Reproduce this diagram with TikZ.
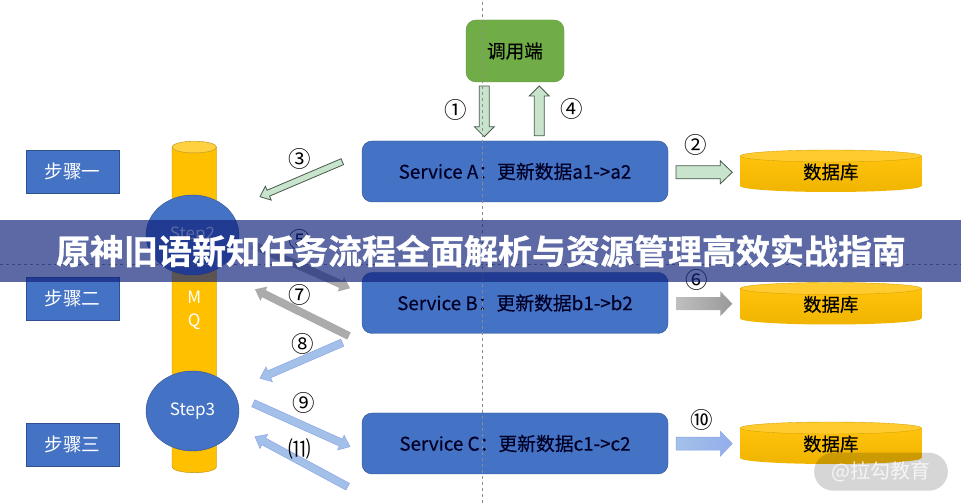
\documentclass[tikz,border=0pt]{standalone}
\usepackage{fontspec}
\setmainfont{Noto Sans CJK SC}
\newfontfamily\heavyfont{Noto Sans CJK SC}[FakeBold=0.35]
\newfontfamily\titlefont{Noto Sans CJK SC Bold}[FakeBold=0.9]
\usetikzlibrary{shapes.geometric,calc}
\definecolor{svcblue}{HTML}{4472C4}
\definecolor{svcline}{HTML}{2F528F}
\definecolor{callgreen}{HTML}{70AD47}
\definecolor{callline}{HTML}{5E9440}
\definecolor{tankyellow}{HTML}{FFC000}
\definecolor{tankline}{HTML}{B98C10}
\definecolor{paleblue}{HTML}{A3C1E8}
\definecolor{palegreen}{HTML}{C9E4CC}
\definecolor{arrowline}{HTML}{46584C}
\definecolor{bandblue}{HTML}{0F227A}

\begin{document}
\begin{tikzpicture}[x=1pt,y=1pt,
    stepbox/.style={
        draw=svcline,
        fill=svcblue,
        text=white,
        font=\fontsize{18.6}{20}\selectfont,
        minimum width=93pt,
        minimum height=42.5pt},
    svcbox/.style={
        draw=svcline,
        fill=svcblue,
        rounded corners=10pt,
        text=black!85!blue,
        font=\heavyfont\fontsize{18.8}{20}\selectfont,
        minimum width=306pt,
        minimum height=61pt},
    stepcircle/.style={
        ellipse,
        draw=svcline,
        fill=svcblue,
        text=white,
        font=\fontsize{17}{20}\selectfont,
        minimum width=93pt,
        minimum height=80pt,
        inner sep=0pt},
    numlabel/.style={font=\fontsize{22.5}{24}\selectfont},
    % a block arrow: half width of shaft, half width of head, length of head
    blockarrow/.style n args={3}{
        to path={
            ($(\tikztostart)!#1!90:(\tikztotarget)$)
            -- ($(\tikztotarget)!#3!(\tikztostart)!#1!-90:(\tikztostart)$)
            -- ($(\tikztotarget)!#3!(\tikztostart)!#2!-90:(\tikztostart)$)
            -- (\tikztotarget)
            -- ($(\tikztotarget)!#3!(\tikztostart)!#2!90:(\tikztostart)$)
            -- ($(\tikztotarget)!#3!(\tikztostart)!#1!90:(\tikztostart)$)
            -- ($(\tikztostart)!#1!-90:(\tikztotarget)$)
            -- cycle}},
    greenarrow/.style={draw=arrowline,fill=palegreen,line width=.8pt},
    grayarrow/.style={fill=black!33},
    bluearrow/.style={draw=paleblue!85!blue,fill=paleblue,line width=.5pt}
    ]
    \useasboundingbox (0,0) rectangle (961,503);

    % storage tank
    \node[cylinder,shape border rotate=90,aspect=.85,draw=tankline,
        cylinder uses custom fill,cylinder body fill=tankyellow,
        cylinder end fill=tankyellow!75!white,
        minimum width=44.5pt,minimum height=331.5pt,inner sep=0pt,
        text=white,align=center,
        font=\fontsize{17}{23}\selectfont] (tank) at (194.25,193) {M\\Q};

    \node[stepbox] (step1) at (72.5,331.5) {步骤一};
    \node[stepbox] (step2) at (72.5,204.2) {步骤二};
    \node[stepbox] (step3) at (72.5,58.5) {步骤三};

    \node[stepcircle] (circle2) at (192.5,268) {Step2};
    \node[stepcircle] (circle3) at (192.5,92) {Step3};

    \node[svcbox] (svca) at (515,331.5) {Service A：更新数据a1->a2};
    \node[svcbox] (svcb) at (515,200) {Service B：更新数据b1->b2};
    \node[svcbox] (svcc) at (515,59.5) {Service C：更新数据c1->c2};

    \node[draw=callline,fill=callgreen,rounded corners=10pt,
        minimum width=98pt,minimum height=62pt,
        font=\heavyfont\fontsize{18.6}{20}\selectfont] (caller) at (515,452) {调用端};

    % databases
    \foreach \name/\ypos in {dba/332,dbb/199.5,dbc/60}{
        \shade[top color=tankyellow!95!white,bottom color=tankyellow!94!black]
            (740,\ypos+15) -- (740,\ypos-15)
            arc[start angle=180,end angle=360,x radius=90.75pt,y radius=6pt]
            -- (921.5,\ypos+15) -- cycle;
        \fill[tankyellow!82!white,draw=tankyellow!85!black,line width=.4pt] (830.75,\ypos+15)
            ellipse[x radius=90.75pt,y radius=6pt];
        \node[font=\heavyfont\fontsize{18.4}{20}\selectfont] (\name) at (830.75,\ypos-1) {数据库};
    }

    % arrow ends
    \coordinate (a1s) at (484.3,417);
    \coordinate (a1t) at (484.3,366.3);
    \coordinate (a4s) at (539.3,367.3);
    \coordinate (a4t) at (539.3,417);
    \coordinate (a2s) at (676,330.7);
    \coordinate (a2t) at (732.3,330.7);
    \coordinate (a3s) at (342.3,341.3);
    \coordinate (a3t) at (260,306.3);
    \coordinate (a5s) at (253,258);
    \coordinate (a5t) at (350,214.7);
    \coordinate (a6s) at (676,199.3);
    \coordinate (a6t) at (732.3,199.3);
    \coordinate (a7s) at (349,167);
    \coordinate (a7t) at (255,213.7);
    \coordinate (a8s) at (342.3,160.3);
    \coordinate (a8t) at (260,124.7);
    \coordinate (a9s) at (253.3,99.7);
    \coordinate (a9t) at (350,56.3);
    \coordinate (a10s) at (676,59.3);
    \coordinate (a10t) at (732.3,59.3);
    \coordinate (a11s) at (347.7,16.3);
    \coordinate (a11t) at (255,66.3);

    \draw[greenarrow] (a1s) to[blockarrow={5pt}{10pt}{10pt}] (a1t);
    \draw[greenarrow] (a4s) to[blockarrow={5pt}{10pt}{10pt}] (a4t);
    \draw[greenarrow] (a2s) to[blockarrow={6.5pt}{11.5pt}{12pt}] (a2t);
    \draw[greenarrow] (a3s) to[blockarrow={3.2pt}{7.5pt}{9pt}] (a3t);
    \foreach \from/\to in {a5s/a5t,a7s/a7t}
        \fill[grayarrow] (\from) to[blockarrow={4pt}{8pt}{10pt}] (\to);
    \draw[draw=none,left color=black!25,right color=black!40]
        (a6s) to[blockarrow={6.5pt}{12.5pt}{12pt}] (a6t);
    \foreach \from/\to in {a8s/a8t,a9s/a9t,a11s/a11t}
        \draw[bluearrow] (\from) to[blockarrow={3.8pt}{8pt}{10pt}] (\to);
    \draw[draw=paleblue!85!blue,line width=.5pt,left color=paleblue,right color=paleblue!90!blue]
        (a10s) to[blockarrow={6.5pt}{12.5pt}{12pt}] (a10t);

    \node[numlabel] (n1) at (455.7,393) {①};
    \node[numlabel] (n2) at (695.7,358) {②};
    \node[numlabel] (n3) at (300,344) {③};
    \node[numlabel] (n4) at (572,394) {④};
    \node[numlabel] (n5) at (300,263) {⑤};
    \node[numlabel] (n6) at (697,223) {⑥};
    \node[numlabel] (n7) at (300,208) {⑦};
    \node[numlabel] (n8) at (302.7,159) {⑧};
    \node[numlabel] (n9) at (304,100) {⑨};
    \node[numlabel] (n10) at (702,83) {⑩};
    \node[numlabel] (n11) at (300,54) {⑾};

    % guide lines
    \draw[dashed,black!45,line width=.6pt] (482.7,0) -- (482.7,503);
    \draw[dashed,black!45,line width=.6pt] (0,238.7) -- (961,238.7);

    % title band
    \fill[bandblue,opacity=.68] (0,221) rectangle (961,283);
    \node[text=white,font=\titlefont\fontsize{34}{38}\selectfont] (title) at (481,252)
        {原神旧语新知任务流程全面解析与资源管理高效实战指南};

    % watermark
    \node[fill=black,fill opacity=.16,text opacity=.75,text=white,rounded corners=19pt,
        minimum width=133.7pt,minimum height=38pt,
        font=\fontsize{20}{22}\selectfont] (mark) at (881,31.3) {@拉勾教育};
\end{tikzpicture}
\end{document}
